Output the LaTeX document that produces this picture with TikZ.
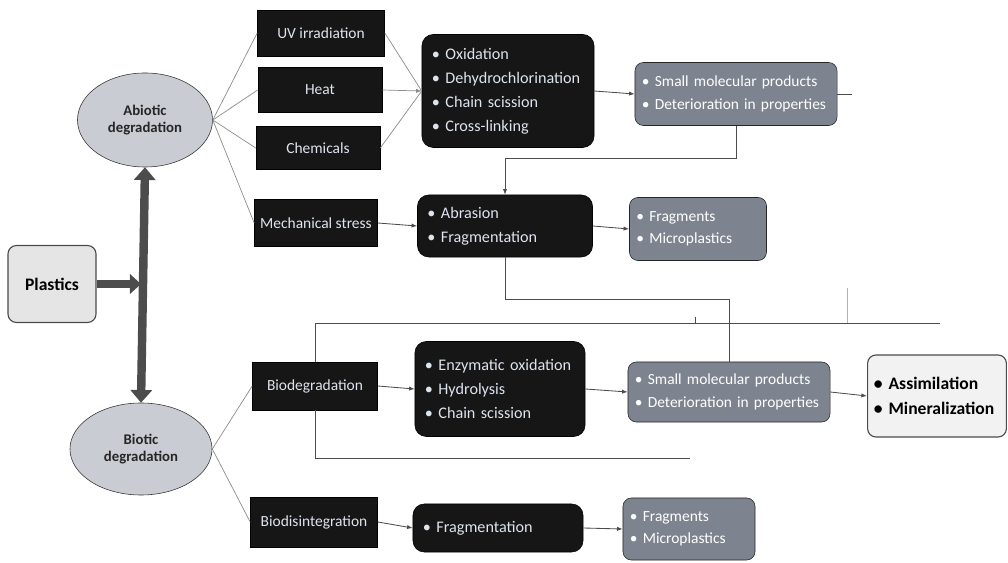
\documentclass[tikz,border=0pt]{standalone}
\usepackage{fontspec}
\setmainfont{Carlito}
\usepackage{tikz}
\usetikzlibrary{arrows.meta,positioning,shapes.geometric,calc}
\definecolor{boxblack}{HTML}{161616}
\definecolor{boxtext}{HTML}{DDE4EE}
\definecolor{boxgrey}{HTML}{7E848F}
\definecolor{ellfill}{HTML}{C9CCD2}
\definecolor{barcol}{HTML}{4C4C4C}

\begin{document}
\begin{tikzpicture}[x=0.025cm,y=-0.025cm,
  blackbox/.style={draw=black,fill=boxblack,text=boxtext,font=\fontsize{11}{13}\selectfont,inner sep=0pt},
  listbox/.style={blackbox,rounded corners=8pt,align=left,inner xsep=0.25cm,font=\fontsize{11.5}{17}\selectfont},
  greybox/.style={draw=black!85,fill=boxgrey,text=white,rounded corners=6pt,align=left,inner xsep=0.175cm,inner ysep=0pt,font=\fontsize{11}{16}\selectfont},
  ellip/.style={ellipse,draw=black!80,fill=ellfill,text=black!85,align=center,inner sep=0pt,font=\bfseries\fontsize{10.5}{12.5}\selectfont},
  lightbox/.style={draw=black!70,thick,rounded corners=6pt,align=left,font=\bfseries\fontsize{12.5}{18}\selectfont},
  link/.style={draw=black!70,line width=0.6pt},
  fan/.style={draw=black!45,line width=0.5pt},
  tip/.style={-{Latex[length=4pt,width=3pt]}},
  bigarrow/.style={draw=barcol,line width=6pt}
]
\useasboundingbox (0,0) rectangle (1008,563);

% source and the two branches
\node[lightbox,fill=black!10,align=center,minimum width=2.2cm,minimum height=1.925cm] (pla) at (52,284) {Plastics};
\node[ellip,minimum width=3.375cm,minimum height=2.35cm] (abi) at (145,120) {Abiotic\\degradation};
\node[ellip,minimum width=3.55cm,minimum height=2.3cm] (bio) at (141,449) {Biotic\\degradation};

% factors
\node[blackbox,minimum width=3.175cm,minimum height=1.15cm] (uv) at (321,33) {UV irradiation};
\node[blackbox,minimum width=3.1cm,minimum height=1.125cm] (heat) at (320,90) {Heat};
\node[blackbox,minimum width=3.1cm,minimum height=1.075cm] (chem) at (318,148) {Chemicals};
\node[blackbox,minimum width=3.075cm,minimum height=1.175cm] (mech) at (316,223) {Mechanical stress};
\node[blackbox,minimum width=3.125cm,minimum height=1.2cm] (bdeg) at (315,386) {Biodegradation};
\node[blackbox,minimum width=3.175cm,minimum height=1.25cm] (bdis) at (314,522) {Biodisintegration};

% processes
\node[listbox,text width=3.8cm,minimum height=2.825cm] (oxi) at (508,91) {• Oxidation\\• Dehydrochlorination\\• Chain scission\\• Cross-linking};
\node[listbox,text width=3.875cm,minimum height=1.55cm] (abr) at (505,226) {• Abrasion\\• Fragmentation};
\node[listbox,text width=3.75cm,minimum height=2.375cm] (enz) at (500,389) {• Enzymatic oxidation\\• Hydrolysis\\• Chain scission};
\node[listbox,text width=3.75cm,minimum height=1.2cm] (frg) at (498,528) {• Fragmentation};

% products
\node[greybox,text width=4.7cm,minimum height=1.575cm] (smp1) at (736,94) {• Small molecular products\\• Deterioration in properties};
\node[greybox,text width=3.075cm,minimum height=1.575cm] (frm1) at (698,229) {• Fragments\\• Microplastics};
\node[greybox,text width=4.7cm,minimum height=1.5cm] (smp2) at (729,392) {• Small molecular products\\• Deterioration in properties};
\node[greybox,text width=2.95cm,minimum height=1.55cm] (frm2) at (689,529) {• Fragments\\• Microplastics};
\node[lightbox,fill=black!5,text width=3.15cm,inner xsep=0.16cm,minimum height=2.05cm] (asm) at (937,396) {• Assimilation\\• Mineralization};

% thick arrows
\coordinate (bar) at (pla.east -| abi.south);
\draw[bigarrow,{Triangle[width=15pt,length=9pt]}-{Triangle[width=15pt,length=9pt]}] (abi.south) -- (bio.north);
\draw[bigarrow,-{Triangle[width=14pt,length=8pt]}] (pla.east) -- ($(bar)+(-4,0)$);

% abiotic side
\foreach \f in {uv,heat,chem,mech} \draw[fan] (abi.east) -- (\f.west);
\draw[fan] (uv.east) -- (oxi.west);
\draw[fan,tip] (heat.east) -- (oxi.west);
\draw[fan] (chem.east) -- (oxi.west);
\draw[link,tip] (oxi.east) -- (smp1.west);
\draw[link] (smp1.east) -- ++(15,0) coordinate (stub);
\draw[link,tip] (smp1.south) -- ++(0,33) -| (abr.north);
\draw[link,tip] (mech.east) -- (abr.west);
\draw[link,tip] (abr.east) -- (frm1.west);
\draw[link] (abr.south) -- ++(0,42) -| (smp2.north);

% biotic side
\foreach \f in {bdeg,bdis} \draw[fan] (bio.east) -- (\f.west);
\coordinate (topend) at (940,323);
\coordinate (lowend) at (690,458);
\draw[link] (bdeg.north) |- (topend);
\draw[link] (bdeg.south) |- (lowend);
\draw[link] (695,317) -- (695,323);
\draw[draw=black!30,line width=0.4pt] (847,288) -- (847,323);
\draw[link,tip] (bdeg.east) -- (enz.west);
\draw[link,tip] (enz.east) -- (smp2.west);
\draw[link,tip] (smp2.east) -- (asm.west);
\draw[link,tip] (bdis.east) -- (frg.west);
\draw[link,tip] (frg.east) -- (frm2.west);
\end{tikzpicture}
\end{document}
